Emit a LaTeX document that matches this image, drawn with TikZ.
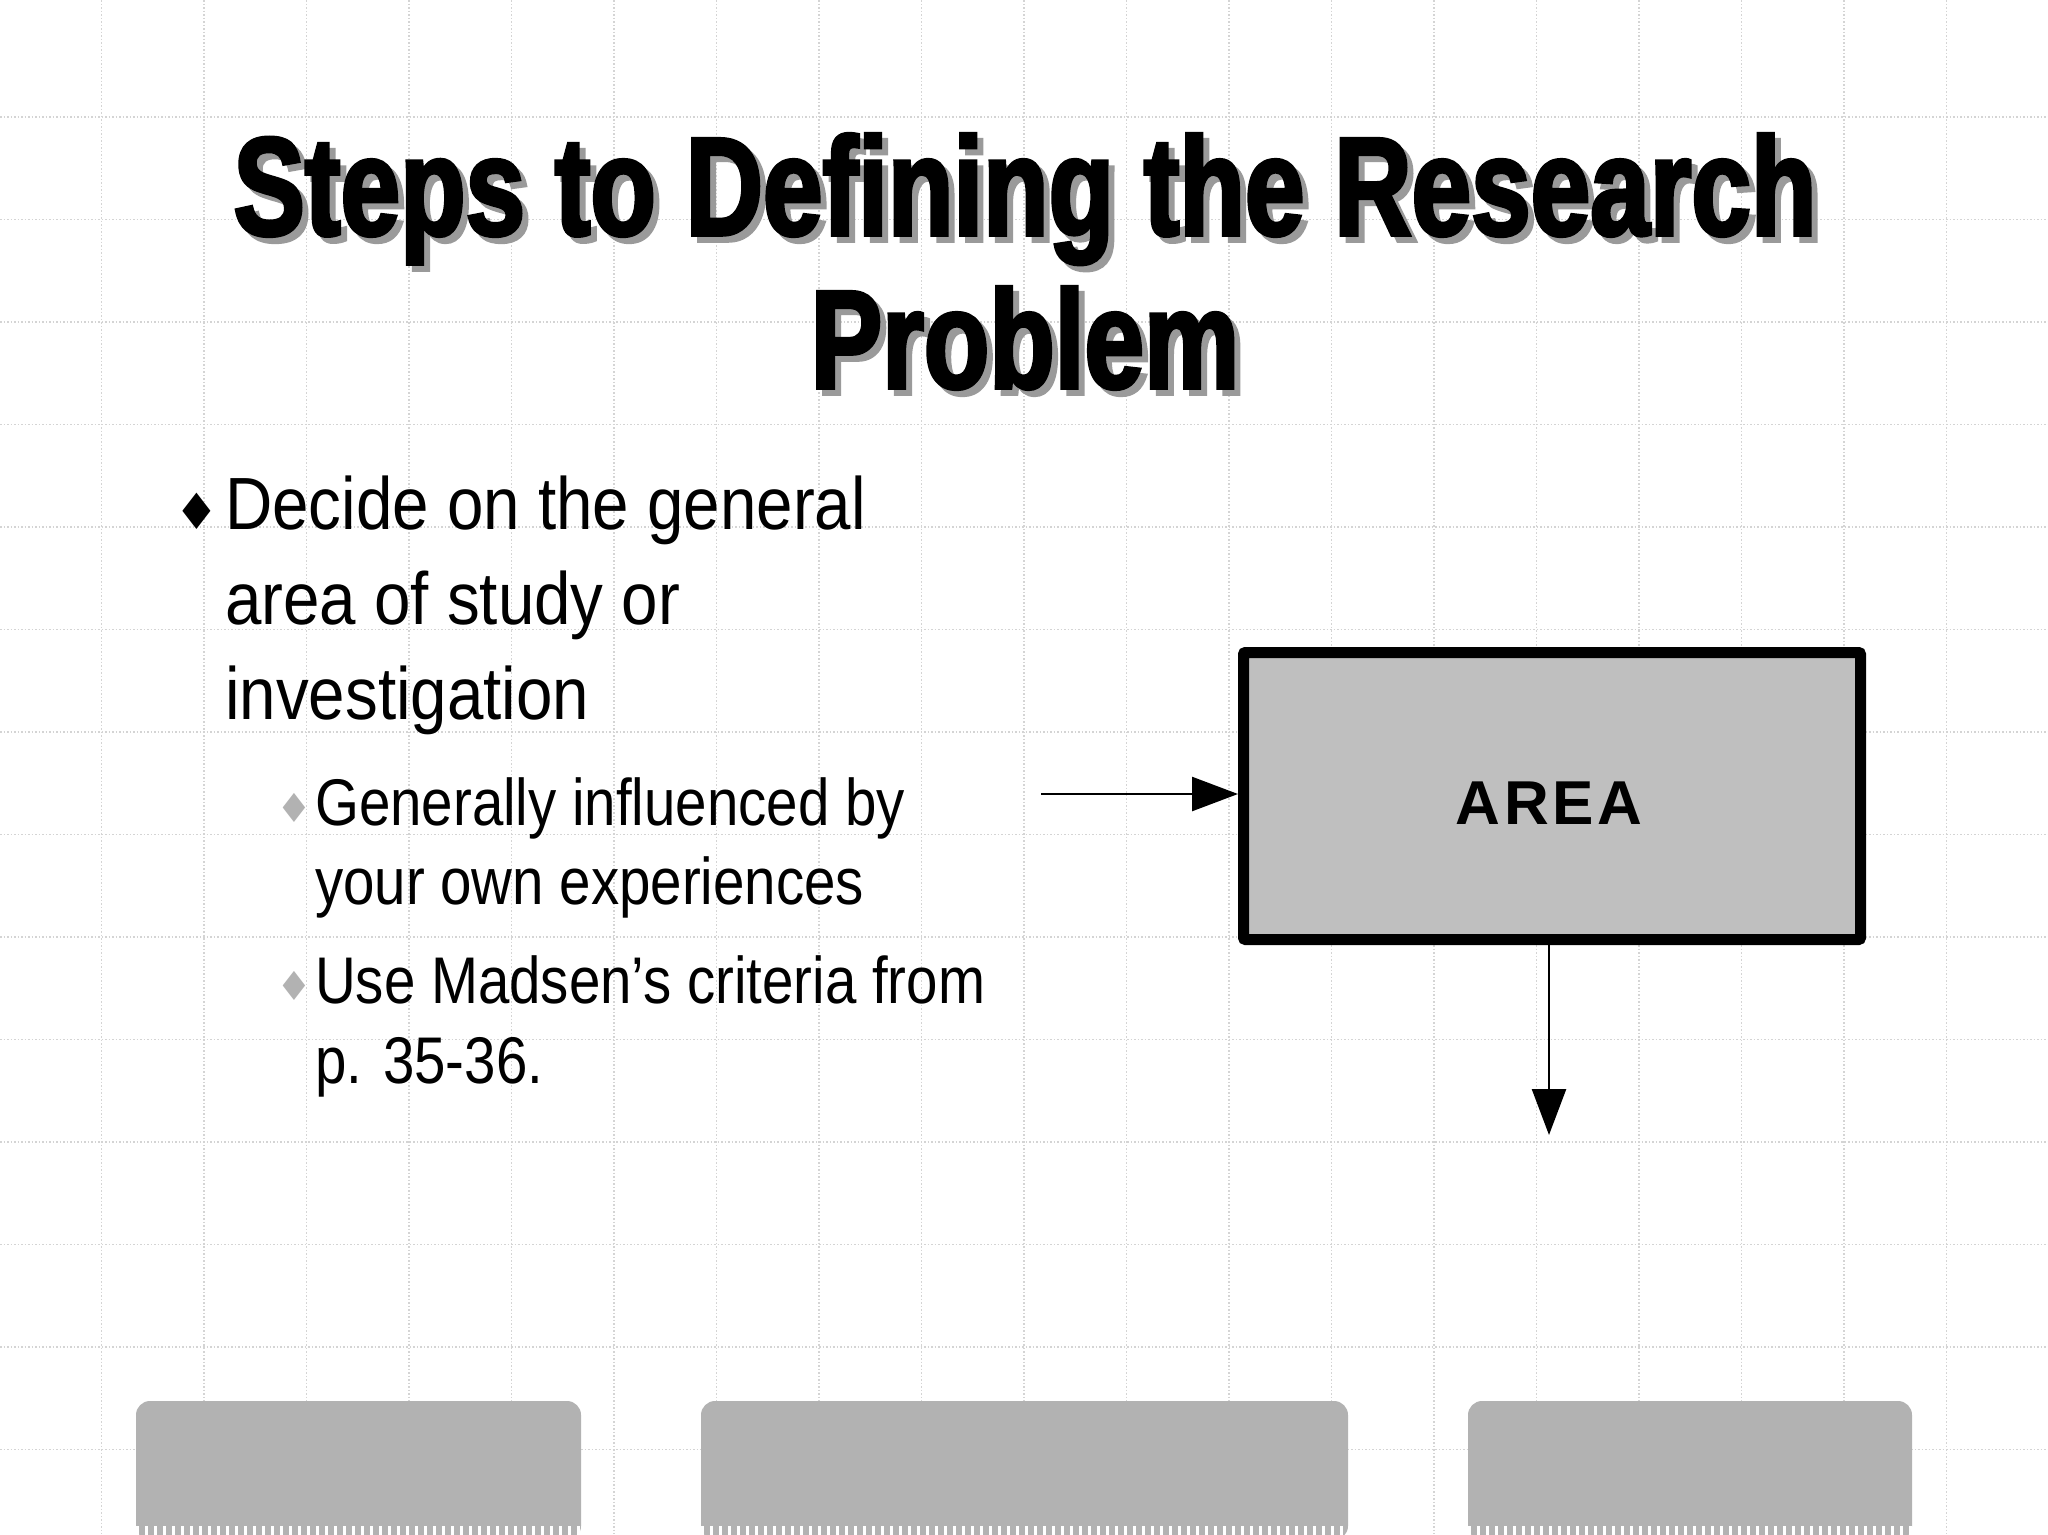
\documentclass[tikz,border=0pt]{standalone}
\usepackage{fontspec}
\usetikzlibrary{arrows.meta}
\setmainfont{Liberation Sans}
\newfontfamily\narrowfont[FakeStretch=0.885]{Liberation Sans}
\newfontfamily\subfont[FakeStretch=0.855]{Liberation Sans}
\newfontfamily\titlefont[FakeStretch=0.765,FakeBold=2.5]{Liberation Sans Bold}
\newfontfamily\areafont[LetterSpace=6]{Liberation Sans Bold}
\newfontfamily\symfont{DejaVu Sans}
\definecolor{gridc}{HTML}{D4D4D4}
\definecolor{boxfill}{HTML}{BFBFBF}
\definecolor{tabfill}{HTML}{B2B2B2}
\definecolor{shadowc}{HTML}{9A9A9A}
\tikzset{
  gridline/.style={gridc,line width=1.5pt,dotted},
  titletext/.style={anchor=base,font=\titlefont\fontsize{140}{140}\selectfont,inner sep=0},
  maintext/.style={anchor=base west,font=\narrowfont\fontsize{74}{74}\selectfont,inner sep=0},
  subtext/.style={anchor=base west,font=\subfont\fontsize{66}{66}\selectfont,inner sep=0},
  areabox/.style={draw=black,fill=boxfill,line width=11pt,rounded corners=2pt,minimum width=617pt,minimum height=287pt,inner sep=0},
  conn/.style={line width=2.5pt,-{Triangle[length=46pt,width=34pt]}},
}
\begin{document}
\begin{tikzpicture}[x=1pt,y=-1pt]
\useasboundingbox (0,0) rectangle (2048,1534);
\fill[white] (0,0) rectangle (2048,1534);
\foreach \i in {1,...,19} {\draw[gridline] ({102.5*\i-1},0) -- ({102.5*\i-1},1534);}
\foreach \j in {0,...,14} {\draw[gridline] (0,{117+102.5*\j}) -- (2048,{117+102.5*\j});}
\node[titletext,text=shadowc] at (1031,241) {Steps to Defining the Research};
\node[titletext] (t1) at (1025,235) {Steps to Defining the Research};
\node[titletext,text=shadowc] at (1031,394) {Problem};
\node[titletext] (t2) at (1025,388) {Problem};
\node[anchor=base west,inner sep=0,font=\symfont\fontsize{50}{50}\selectfont] (b1) at (174,529) {♦};
\node[maintext] (m1) at (225,529) {Decide on the general};
\node[maintext] (m2) at (225,624) {area of study or};
\node[maintext] (m3) at (225,719) {investigation};
\node[anchor=base west,inner sep=0,text=gray!60,font=\symfont\fontsize{40}{40}\selectfont] (b2) at (276,822) {♦};
\node[subtext] (s1) at (315,825) {Generally influenced by};
\node[subtext] (s2) at (315,904) {your own experiences};
\node[anchor=base west,inner sep=0,text=gray!60,font=\symfont\fontsize{40}{40}\selectfont] (b3) at (276,1000) {♦};
\node[subtext] (s3) at (315,1003) {Use Madsen’s criteria from};
\node[subtext] (s4) at (315,1083) {p. 35-36.};
\node[areabox] (area) at (1552,796) {};
\node[font=\areafont\fontsize{62}{62}\selectfont,inner sep=0] (areatxt) at (1549,803) {AREA};
\coordinate (inl) at (1041,794);
\coordinate (outb) at (1549,1135);
\draw[conn] (inl) -- (area.west |- inl);
\draw[conn] (area.south -| outb) -- (outb);
\foreach \a/\b in {136/581,701/1348,1468/1912} {
  \fill[tabfill,rounded corners=14pt] (\a,1401) -- (\a,1540) -- (\b,1540) -- (\b,1401) -- cycle;
  \draw[white,line width=9pt,dash pattern=on 3pt off 6pt] (\a,1530) -- (\b,1530);
}
\end{tikzpicture}
\end{document}
